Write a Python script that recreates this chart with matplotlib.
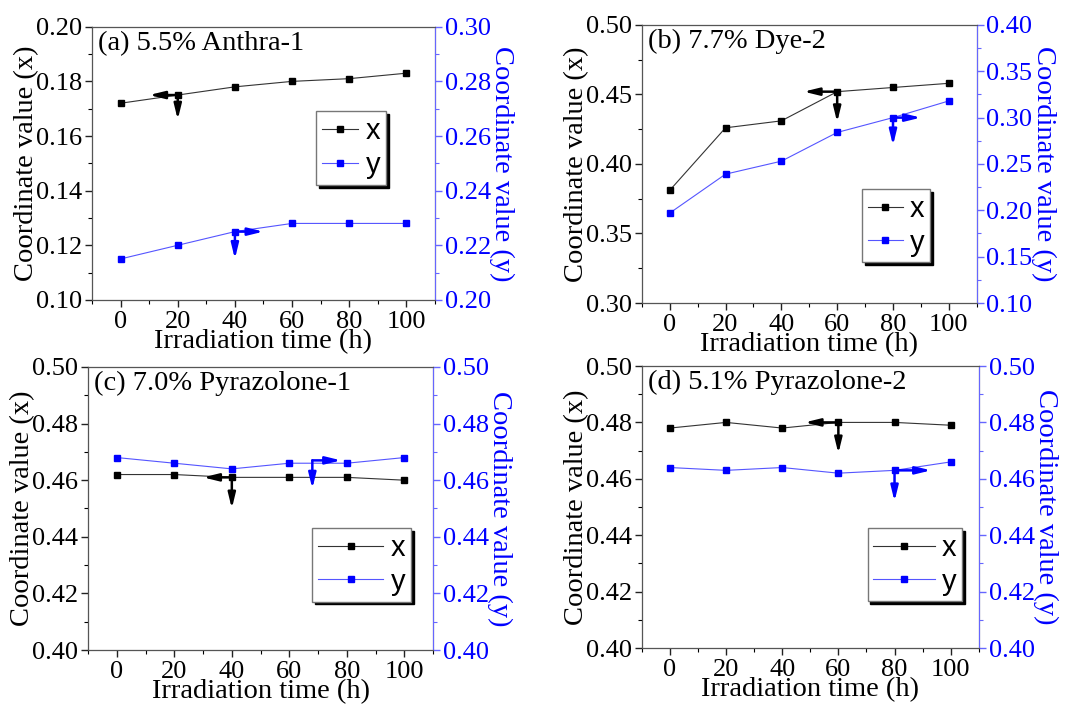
import matplotlib.pyplot as plt
from matplotlib.ticker import MultipleLocator, FormatStrFormatter

plt.rcParams['font.family'] = ['Liberation Serif', 'DejaVu Serif']

time_h = [0, 20, 40, 60, 80, 100]

titles = ['(a) 5.5% Anthra-1', '(b) 7.7% Dye-2',
          '(c) 7.0% Pyrazolone-1', '(d) 5.1% Pyrazolone-2']

x_a = [0.172, 0.175, 0.178, 0.180, 0.181, 0.183]
y_a = [0.215, 0.220, 0.225, 0.228, 0.228, 0.228]
x_b = [0.381, 0.426, 0.431, 0.452, 0.455, 0.458]
y_b = [0.197, 0.239, 0.253, 0.284, 0.300, 0.318]
x_c = [0.462, 0.462, 0.461, 0.461, 0.461, 0.460]
y_c = [0.468, 0.466, 0.464, 0.466, 0.466, 0.468]
x_d = [0.478, 0.480, 0.478, 0.480, 0.480, 0.479]
y_d = [0.464, 0.463, 0.464, 0.462, 0.463, 0.466]

xs = [x_a, x_b, x_c, x_d]
ys = [y_a, y_b, y_c, y_d]

# axis ranges: (lo, hi, major step)
left_lim = [(0.10, 0.20, 0.02), (0.30, 0.50, 0.05), (0.40, 0.50, 0.02), (0.40, 0.50, 0.02)]
right_lim = [(0.20, 0.30, 0.02), (0.10, 0.40, 0.05), (0.40, 0.50, 0.02), (0.40, 0.50, 0.02)]

# axes rectangles in figure fractions
rects = [[0.0856, 0.574, 0.319, 0.388],
         [0.597, 0.5696, 0.3116, 0.395],
         [0.0819, 0.0767, 0.321, 0.402],
         [0.597, 0.0795, 0.3135, 0.4006]]
legend_pos = [(0.653, 0.69), (0.657, 0.41), (0.649, 0.431), (0.67, 0.426)]
handle_len = [1.25, 1.2, 2.25, 2.1]

# direction arrows: black (x start, x end, y end), blue (x start, y start, x end, y end)
black_arrow = [(20, 10, 0.166), (60, 48, 0.430), (40, 30, 0.450), (60, 48, 0.469)]
blue_arrow = [(40, 0.225, 50, 0.215), (80, 0.300, 90, 0.270),
              (68, 0.467, 78, 0.457), (80, 0.463, 93, 0.452)]

BLUE = '#0000ff'

fig = plt.figure(figsize=(10.75, 7.04), dpi=100)


def arrow(a, start, end, color):
    a.annotate('', xy=end, xytext=start,
               arrowprops=dict(arrowstyle='-|>,head_length=0.9,head_width=0.22',
                               color=color, lw=1.8, mutation_scale=10,
                               shrinkA=0, shrinkB=0))


for i in range(4):
    ax = fig.add_axes(rects[i])
    ax2 = ax.twinx()
    l1, = ax.plot(time_h, xs[i], color='#333333', lw=0.8, marker='s', ms=4.5,
                  mfc='black', mec='black', label='x')
    l2, = ax2.plot(time_h, ys[i], color='#5555ff', lw=0.8, marker='s', ms=4.5,
                   mfc=BLUE, mec=BLUE, label='y')

    lo, hi, st = left_lim[i]
    ax.set_ylim(lo, hi)
    ax.yaxis.set_major_locator(MultipleLocator(st))
    ax.yaxis.set_minor_locator(MultipleLocator(st / 2))
    ax.yaxis.set_major_formatter(FormatStrFormatter('%.2f'))
    lo, hi, st = right_lim[i]
    ax2.set_ylim(lo, hi)
    ax2.yaxis.set_major_locator(MultipleLocator(st))
    ax2.yaxis.set_minor_locator(MultipleLocator(st / 2))
    ax2.yaxis.set_major_formatter(FormatStrFormatter('%.2f'))

    ax.set_xlim(-10, 110)
    ax.xaxis.set_major_locator(MultipleLocator(20))
    ax.xaxis.set_minor_locator(MultipleLocator(10))

    for a in (ax, ax2):
        a.tick_params(which='major', direction='out', length=5, width=1,
                      labelsize=19, pad=2)
        a.tick_params(which='minor', direction='out', length=3, width=0.8)
    ax.tick_params(axis='x', pad=3)
    ax.tick_params(colors='#222222', labelcolor='black')
    ax2.tick_params(axis='y', which='both', colors='#6666ff', labelcolor=BLUE)
    for s in ('left', 'top', 'bottom'):
        ax2.spines[s].set_color('#555555')
    ax2.spines['right'].set_color('#6666ff')

    ax.set_xlabel('Irradiation time (h)', fontsize=20.5, labelpad=-3)
    ax.set_ylabel('Coordinate value (x)', fontsize=20.5, labelpad=-2)
    ax2.set_ylabel('Coordinate value (y)', fontsize=20.5, color=BLUE,
                   rotation=270, labelpad=17)

    ax.text(0.018, 0.985, titles[i], transform=ax.transAxes, fontsize=20.5,
            ha='left', va='top')

    x0, x1, ydrop = black_arrow[i]
    y0 = xs[i][time_h.index(x0)]
    arrow(ax, (x0, y0), (x1, y0), 'black')
    arrow(ax, (x0, y0), (x0, ydrop), 'black')
    bx0, by0, bx1, bdrop = blue_arrow[i]
    arrow(ax2, (bx0, by0), (bx1, by0), BLUE)
    arrow(ax2, (bx0, by0), (bx0, bdrop), BLUE)

    ax2.legend([l1, l2], ['x', 'y'], loc='upper left',
               bbox_to_anchor=legend_pos[i], fancybox=False,
               shadow={'color': 'black', 'alpha': 1},
               edgecolor='#777777', framealpha=1, handlelength=handle_len[i],
               prop={'family': 'Liberation Sans', 'size': 21},
               borderpad=0.2, labelspacing=0.2, handletextpad=0.25,
               borderaxespad=0)

fig.savefig('out.png', dpi=100)
